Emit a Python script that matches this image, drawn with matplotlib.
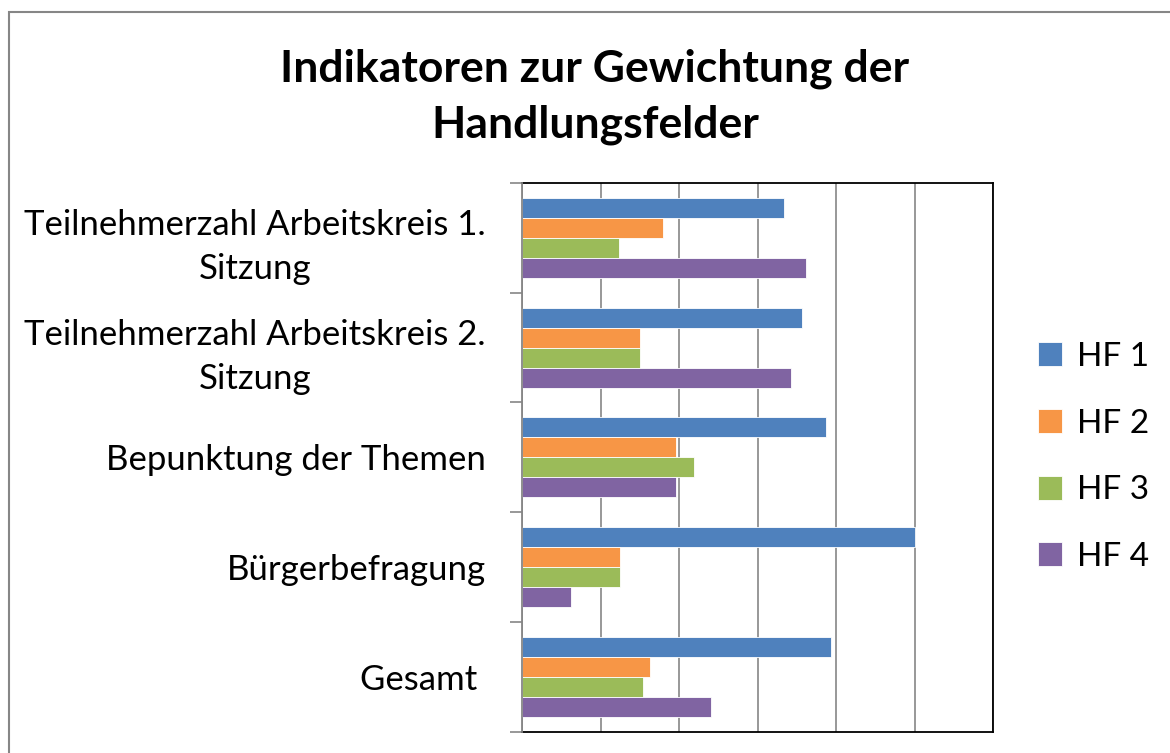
import matplotlib.pyplot as plt
import numpy as np
from matplotlib.patches import Rectangle

plt.rcParams['font.family'] = ['Lato', 'DejaVu Sans']

# categories from bottom to top (as drawn)
categories = ["Gesamt ", "Bürgerbefragung", "Bepunktung der Themen",
              "Teilnehmerzahl Arbeitskreis 2.\nSitzung",
              "Teilnehmerzahl Arbeitskreis 1.\nSitzung"]
series = ["HF 1", "HF 2", "HF 3", "HF 4"]
hf1 = [3.94, 5.00, 3.87, 3.56, 3.33]
hf2 = [1.63, 1.25, 1.96, 1.50, 1.80]
hf3 = [1.54, 1.25, 2.19, 1.50, 1.24]
hf4 = [2.40, 0.62, 1.96, 3.42, 3.61]
colors = ["#4F81BD", "#F79646", "#9BBB59", "#8064A2"]

fig = plt.figure(figsize=(11.7, 7.53), dpi=100)
ax = fig.add_axes([522 / 1170, 1 - 731.7 / 753, (993.3 - 522) / 1170, (731.7 - 183) / 753])

y = np.arange(len(categories))
h = 0.182
offsets = [1.5 * h, 0.5 * h, -0.5 * h, -1.5 * h]
for vals, off, col, name in zip([hf1, hf2, hf3, hf4], offsets, colors, series):
    ax.barh(y + off, vals, height=h, color=col, edgecolor="white", linewidth=0.6,
            label=name, zorder=3)

ax.set_xlim(0, 6)
ax.set_ylim(-0.5, len(categories) - 0.5)
ax.set_xticks(np.arange(0, 7, 1))
ax.set_xticklabels([])
ax.tick_params(axis="x", length=0)
ax.grid(axis="x", color="#868686", linewidth=1.2, zorder=0)

ax.set_yticks(y)
ax.set_yticklabels(categories, fontsize=25, ha="right", multialignment="center",
                   linespacing=1.47)
ax.tick_params(axis="y", which="major", length=0, pad=26)
ax.set_yticks(np.arange(-0.5, len(categories), 1), minor=True)
ax.tick_params(axis="y", which="minor", length=8.5, width=1.2, color="#868686")

for side in ["top", "right", "bottom"]:
    ax.spines[side].set_color("black")
    ax.spines[side].set_linewidth(1.3)
ax.spines["left"].set_color("#868686")
ax.spines["left"].set_linewidth(1.3)
ax.spines["left"].set_zorder(4)

fig.text(595 / 1170, 1 - 97 / 753, "Indikatoren zur Gewichtung der\nHandlungsfelder",
         ha="center", va="center", fontsize=32, fontweight="bold", linespacing=1.48)

fig.legend(loc="center left", bbox_to_anchor=(1025 / 1170, 1 - 457 / 753),
           frameon=False, fontsize=24, handlelength=0.72, handleheight=0.72,
           handletextpad=0.45, labelspacing=1.1, borderaxespad=0)

# outer chart border (left and top edges visible)
fig.patches.append(Rectangle((9 / 1170, -0.1), 1.2, 1 - 12.5 / 753 + 0.1,
                             transform=fig.transFigure, fill=False,
                             edgecolor="#868686", linewidth=1.5))

fig.savefig("out.png", dpi=100)
